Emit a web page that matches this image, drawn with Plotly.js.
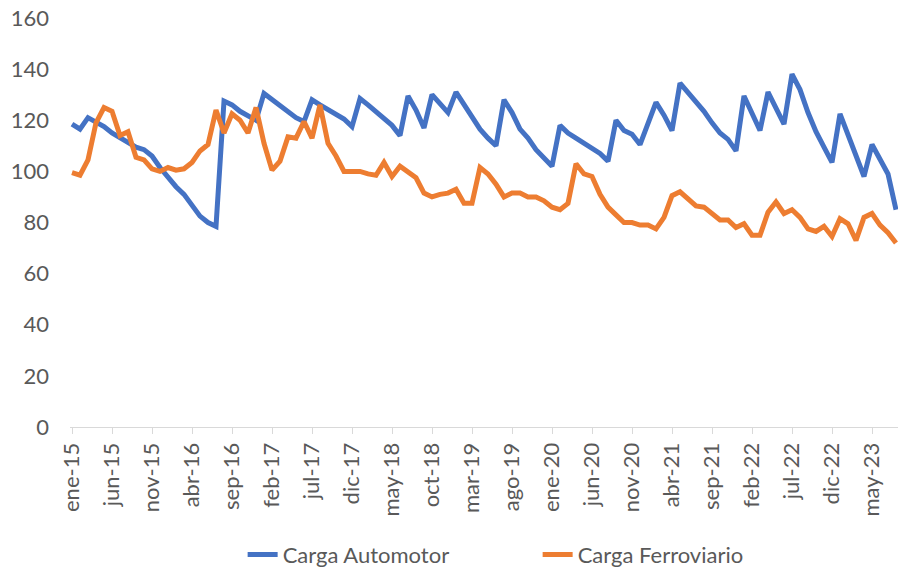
<!DOCTYPE html>
<html>
<head>
<meta charset="utf-8">
<script src="https://cdn.plot.ly/plotly-3.0.1.min.js"></script>
<style>html,body{margin:0;padding:0;background:#fff;}#chart{width:898px;height:571px;}</style>
</head>
<body>
<div id="chart"></div>
<script>
const monthNames = ['ene','feb','mar','abr','may','jun','jul','ago','sep','oct','nov','dic'];
const years = ['15','16','17','18','19','20','21','22','23'];

const automotor = [
118.5,116.5,121,119.5,117.5,115,113,111,109.5,108.5,106,101.5,
97.5,94,91,86.5,82.5,80,78.5,127.5,126,123.5,121.5,120,
130.5,128,125.5,123,121,119.5,128,126,124,122,120.5,117.5,
128.5,126,123.5,120.5,118,114,129.5,124,117,130,126.5,123,
131,126,121,116.5,113,110,128,123,116.5,113,108.5,105,
102,118,115,113,111,109,107,104,120,116,114.5,110.5,
119,127,122,116,134.5,131,127.5,123.5,119,115,112.5,108,
129.5,123,116,131,125,118.5,138,132,123,115.5,109.5,103.5,
122.5,114.5,106,98,110.5,105,99,85
];

const ferroviario = [
99.5,98.5,104.5,119,125,123.5,114,115.5,105.5,104.5,101,100,
101.5,100.5,101,103.5,108,110.5,124,115,122.5,120,115,125,
111,100.5,104,113.5,113,119.5,113,126,111,106,100,100,
100,99,98.5,103.5,98,102,100,97.5,91.5,90,91,91.5,
93,87.5,87.5,101.5,99,95,90,91.5,91.5,90,90,88.5,
86,85,87.5,103,99,98,91,86,83,80,80,79,
79,77.5,82,90.5,92,89.5,86.5,86,83.5,81,81,78,
79.5,75,75,84,88,83.5,85,82,77.5,76.5,78.5,74.5,
81.5,79.5,73,82,83.5,79,76,72
];

const months = [];
years.forEach(y => monthNames.forEach(m => months.push(m + '-' + y)));
const categories = months.slice(0, automotor.length);
const tickLabels = categories.filter((_, i) => i % 5 === 0);

const fontFam = 'Lato, "Liberation Sans", sans-serif';
const grey = '#595959';

const traces = [
  {x: categories, y: automotor, type: 'scatter', mode: 'lines', name: 'Carga Automotor',
   line: {color: '#4472C4', width: 5}},
  {x: categories, y: ferroviario, type: 'scatter', mode: 'lines', name: 'Carga Ferroviario',
   line: {color: '#ED7D31', width: 5}}
];

const layout = {
  width: 898, height: 571,
  margin: {l: 70, r: 0, t: 18, b: 144, autoexpand: false},
  paper_bgcolor: '#ffffff', plot_bgcolor: '#ffffff',
  font: {family: fontFam, size: 22, color: grey},
  showlegend: true,
  legend: {orientation: 'h', x: 0.2085, xanchor: 'left', y: -0.312, yanchor: 'middle',
           font: {family: fontFam, size: 22, color: grey}, entrywidth: 250, entrywidthmode: 'pixels'},
  xaxis: {type: 'category', range: [-0.25, 103.25], tickvals: tickLabels, ticktext: tickLabels,
          tickangle: -90, showline: true, linecolor: '#d9d9d9', linewidth: 1,
          ticks: 'outside', ticklen: 6, tickcolor: '#d9d9d9', showgrid: false, zeroline: false,
          automargin: false, tickfont: {family: fontFam, size: 22, color: grey}},
  yaxis: {range: [0, 160], dtick: 20, showgrid: false, zeroline: false, showline: false,
          automargin: false, ticks: '', ticklabelstandoff: 20, tickfont: {family: fontFam, size: 22, color: grey}}
};

Plotly.newPlot('chart', traces, layout, {displayModeBar: false, staticPlot: true});
</script>
</body>
</html>
